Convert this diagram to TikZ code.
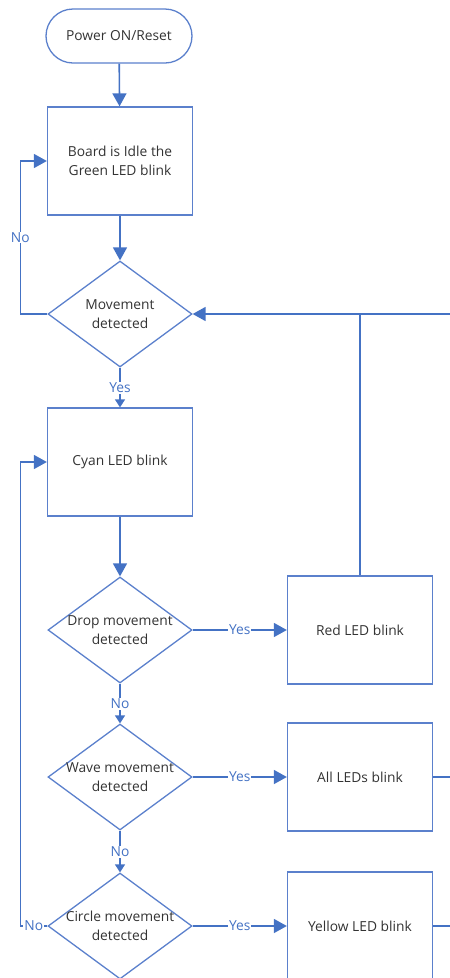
\documentclass[tikz,border=0pt]{standalone}
\usepackage{fontspec}
\setmainfont{Open Sans}
\usetikzlibrary{arrows.meta,shapes.geometric,shapes.misc}
\definecolor{fb}{HTML}{4472C4}
\definecolor{fbl}{HTML}{5B80CC}
\definecolor{tx}{HTML}{333333}
\begin{document}
\begin{tikzpicture}[x=1pt,y=-1pt,
  nf/.style={font=\fontsize{13.8}{19}\selectfont},
  box/.style={draw=fbl, line width=1.3pt, minimum width=145pt, minimum height=108pt, inner sep=0pt, text=tx, nf, align=center},
  term/.style={draw=fbl, line width=1.3pt, rounded rectangle, minimum width=146pt, minimum height=54pt, inner sep=0pt, text=tx, nf},
  dia/.style={draw=fbl, line width=1.3pt, diamond, minimum width=144pt, minimum height=106pt, inner sep=0pt},
  txt/.style={text=tx, nf, align=center, inner sep=0pt},
  conn/.style={draw=fb, line width=1.6pt},
  big/.style={-{Triangle[length=13pt,width=14pt]}},
  small/.style={-{Triangle[length=8pt,width=10pt]}},
  lab/.style={fill=white, text=fb, font=\fontsize{13.8}{15}\selectfont, inner sep=1pt}
]
\useasboundingbox (0,0) rectangle (450,978);
\clip (0,0) rectangle (450,978);

\node[term] (start) at (119,36) {Power ON/Reset};
\node[box] (idle) at (120,161) {Board is Idle the\\Green LED blink};
\node[dia] (d1) at (120,314) {};
\node[txt] (d1t) at (d1) {Movement\\detected};
\node[box] (cyan) at (120,462) {Cyan LED blink};
\node[dia] (d2) at (120,630) {};
\node[txt] (d2t) at (d2) {Drop movement\\detected};
\node[box] (red) at (360,630) {Red LED blink};
\node[dia] (d3) at (120,777) {};
\node[txt] (d3t) at (d3) {Wave movement\\detected};
\node[box] (all) at (360,777) {All LEDs blink};
\node[dia] (d4) at (120,926) {};
\node[txt] (d4t) at (d4) {Circle movement\\detected};
\node[box] (yel) at (360,926) {Yellow LED blink};

\draw[conn,big] (start) -- (idle);
\draw[conn,big] (idle) -- (d1);
\draw[conn,big] (d1.west) -- ++(-27,0) |- node[pos=0.25,lab]{No} (idle.west);
\draw[conn,small] (d1.south) -- node[lab]{Yes} (cyan.north);
\draw[conn,big] (cyan) -- (d2);
\draw[conn,big] (d2.east) -- node[lab]{Yes} (red.west);
\draw[conn,small] (d2) -- node[lab]{No} (d3);
\draw[conn,big] (d3.east) -- node[lab]{Yes} (all.west);
\draw[conn,small] (d3) -- node[lab]{No} (d4);
\draw[conn,big] (d4.east) -- node[lab]{Yes} (yel.west);
\draw[conn,big] (d4.west) -- node[lab]{No} ++(-27,0) |- (cyan.west);
\draw[conn] (red.north) -- (red.north |- d1.east);
\draw[conn,big] (all.east) -- ++(30,0) |- (d1.east);
\draw[conn] (yel.east) -- ++(30,0) |- (all.east);
\end{tikzpicture}
\end{document}
